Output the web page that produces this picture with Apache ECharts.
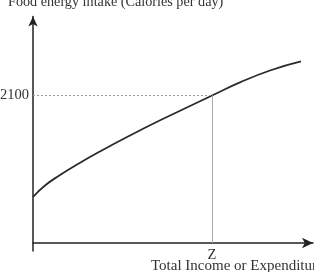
<!DOCTYPE html>
<html>
<head>
<meta charset="utf-8">
<script src="https://cdn.jsdelivr.net/npm/echarts@6/dist/echarts.min.js"></script>
<style>html,body{margin:0;padding:0;background:#fff;}#c{width:314px;height:272px;}</style>
</head>
<body>
<div id="c"></div>
<script>
// Data
var incomeValues = [0, 6.7, 15.1, 25.1, 37.4, 54.2, 71.0, 87.7, 100, 115.6, 132.4, 149.7];
var calorieValues = [655, 819, 968, 1125, 1303, 1531, 1747, 1951, 2100, 2286, 2456, 2585];
var thresholdCalories = 2100;
var povertyLineZ = 100;
var zLabel = 'Z';
var yAxisTitle = 'Food energy intake (Calories per day)';
var xAxisTitle = 'Total Income or Expenditure';

var serif = 'Liberation Serif';
var chart = echarts.init(document.getElementById('c'), null, {renderer: 'canvas'});
var pts = incomeValues.map(function (x, i) { return [x, calorieValues[i]]; });

chart.setOption({
  animation: false,
  backgroundColor: '#fff',
  grid: {left: 33, right: 1, top: 16.5, bottom: 21, containLabel: false},
  xAxis: {
    type: 'value', min: 0, max: 156.4,
    splitLine: {show: false},
    axisTick: {show: false},
    axisLabel: {show: false},
    axisLine: {onZero: true, symbol: ['none', 'arrow'], symbolSize: [8, 11], lineStyle: {color: '#222', width: 1.5}}
  },
  yAxis: {
    type: 'value', min: -114, max: 3225,
    splitLine: {show: false},
    axisTick: {show: false},
    axisLabel: {show: false},
    axisLine: {symbol: ['none', 'arrow'], symbolSize: [7, 10], lineStyle: {color: '#222', width: 1.5}}
  },
  series: [{
    type: 'line', data: pts, smooth: 0.5, showSymbol: false,
    lineStyle: {color: '#2a2a2a', width: 1.8},
    markLine: {
      silent: true, symbol: ['none', 'none'],
      data: [
        [{coord: [0, thresholdCalories], lineStyle: {color: '#999', type: [2, 2], width: 1},
          label: {show: true, position: 'start', formatter: String(thresholdCalories), distance: 4, color: '#333', fontFamily: serif, fontSize: 14.5}},
         {coord: [povertyLineZ, thresholdCalories]}],
        [{coord: [povertyLineZ, 0], lineStyle: {color: '#aaa', type: 'solid', width: 1},
          label: {show: true, position: 'start', formatter: zLabel, distance: 5, color: '#333', fontFamily: serif, fontSize: 14.5}},
         {coord: [povertyLineZ, thresholdCalories]}]
      ]
    }
  }],
  graphic: [
    {type: 'text', left: 8, top: -5, style: {text: yAxisTitle, fill: '#333', font: '14.2px "Liberation Serif"'}},
    {type: 'text', x: 151, y: 259, style: {text: xAxisTitle, fill: '#333', font: '15px "Liberation Serif"'}}
  ]
});
</script>
</body>
</html>
